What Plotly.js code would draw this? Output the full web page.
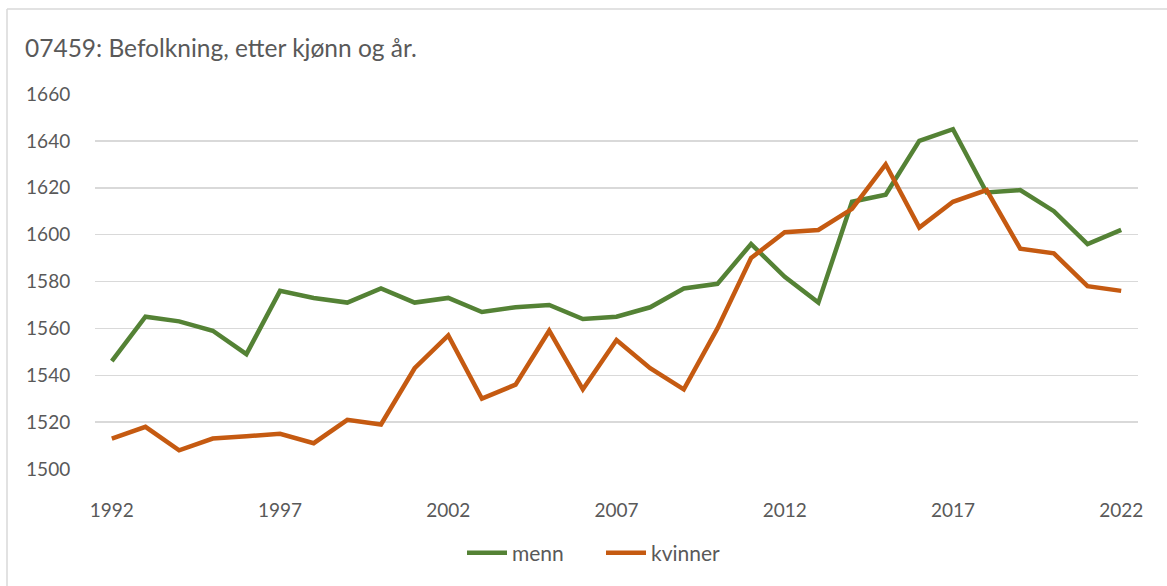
<!DOCTYPE html>
<html>
<head>
<meta charset="utf-8">
<script src="https://cdn.plot.ly/plotly-3.0.1.min.js"></script>
<style>
html,body{margin:0;padding:0;background:#fff;}
#chart{width:1167px;height:586px;}
</style>
</head>
<body>
<div id="chart"></div>
<script>
const years = [1992,1993,1994,1995,1996,1997,1998,1999,2000,2001,2002,2003,2004,2005,2006,2007,2008,2009,2010,2011,2012,2013,2014,2015,2016,2017,2018,2019,2020,2021,2022];
const menn = [1546,1565,1563,1559,1549,1576,1573,1571,1577,1571,1573,1567,1569,1570,1564,1565,1569,1577,1579,1596,1582,1571,1614,1617,1640,1645,1618,1619,1610,1596,1602];
const kvinner = [1513,1518,1508,1513,1514,1515,1511,1521,1519,1543,1557,1530,1536,1559,1534,1555,1543,1534,1560,1590,1601,1602,1611,1630,1603,1614,1619,1594,1592,1578,1576];
const tickYears = [1992,1997,2002,2007,2012,2017,2022];
const yTicks = [1500,1520,1540,1560,1580,1600,1620,1640,1660];
const titleText = "07459: Befolkning, etter kjønn og år.";

const font = "Lato, 'Open Sans', sans-serif";
const txt = "#595959";

const traces = [
  {x: years, y: menn, name: "menn", type: "scatter", mode: "lines",
   line: {color: "#548235", width: 4.5, shape: "linear"}},
  {x: years, y: kvinner, name: "kvinner", type: "scatter", mode: "lines",
   line: {color: "#C55A11", width: 4.5, shape: "linear"}}
];

const layout = {
  width: 1167, height: 586,
  margin: {l: 95, r: 29, t: 94, b: 117},
  paper_bgcolor: "#fff", plot_bgcolor: "#fff",
  font: {family: font, color: txt, size: 19},
  title: {text: titleText, x: 25/1167, xanchor: "left", xref: "container", y: 1 - 48/586, yanchor: "middle", yref: "container",
          font: {family: font, size: 24.5, color: txt}},
  showlegend: true,
  legend: {orientation: "h", x: 0.515, xanchor: "center", xref: "container", y: 33/586, yanchor: "middle", yref: "container",
           font: {family: font, size: 21, color: txt}, itemwidth: 40, entrywidth: 84, traceorder: "normal", bgcolor: "rgba(0,0,0,0)"},
  xaxis: {
    range: [1991.5, 2022.5], tickvals: tickYears, ticktext: tickYears.map(String),
    showgrid: false, zeroline: false, showline: false,
    ticks: "outside", ticklen: 24, tickcolor: "rgba(0,0,0,0)",
    tickfont: {family: font, size: 19, color: txt}, fixedrange: true
  },
  yaxis: {
    range: [1500, 1660], tickvals: yTicks, ticktext: yTicks.map(String),
    showgrid: true, gridcolor: "#D9D9D9", gridwidth: 1.5, zeroline: false, showline: false,
    ticks: "outside", ticklen: 20, tickcolor: "rgba(0,0,0,0)",
    tickfont: {family: font, size: 19, color: txt}, fixedrange: true
  },
  shapes: [
    {type: "line", xref: "paper", yref: "paper", x0: -88/1043, x1: 1.2, y0: 1 + 85/375, y1: 1 + 85/375,
     line: {color: "#D9D9D9", width: 1.5}},
    {type: "line", xref: "paper", yref: "paper", x0: -88/1043, x1: -88/1043, y0: 1 + 85/375, y1: -0.5,
     line: {color: "#D9D9D9", width: 1.5}}
  ]
};

Plotly.newPlot("chart", traces, layout, {displayModeBar: false, staticPlot: true});
</script>
</body>
</html>
